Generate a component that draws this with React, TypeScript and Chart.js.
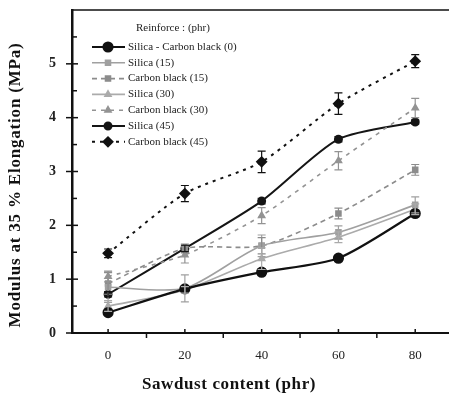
import React, { useEffect, useRef } from "react";
import { Chart, registerables } from "chart.js";
import { drawPoint } from "chart.js/helpers";

Chart.register(...registerables);

// ---- data ----
const sawdust = [0, 20, 40, 60, 80];
const seriesLabels = [
  "Silica - Carbon black (0)",
  "Silica (15)",
  "Carbon black (15)",
  "Silica (30)",
  "Carbon black (30)",
  "Silica (45)",
  "Carbon black (45)",
];
const silicaCB0 = [0.38, 0.82, 1.13, 1.39, 2.22];
const silica15 = [0.85, 0.83, 1.62, 1.87, 2.38];
const carbon15 = [0.92, 1.57, 1.62, 2.22, 3.03];
const silica30 = [0.5, 0.8, 1.38, 1.78, 2.3];
const carbon30 = [1.05, 1.45, 2.18, 3.2, 4.18];
const silica45 = [0.72, 1.57, 2.45, 3.6, 3.92];
const carbon45 = [1.48, 2.59, 3.18, 4.26, 5.05];

const errSilicaCB0 = [0.05, 0.05, 0.06, 0.05, 0.06];
const errSilica15 = [0.28, 0.25, 0.2, 0.12, 0.15];
const errCarbon15 = [0.2, 0.08, 0.15, 0.1, 0.1];
const errSilica30 = [0.1, 0.06, 0.2, 0.1, 0.1];
const errCarbon30 = [0.1, 0.15, 0.15, 0.17, 0.18];
const errSilica45 = [0.05, 0.06, 0.05, 0.05, 0.04];
const errCarbon45 = [0.08, 0.15, 0.2, 0.2, 0.12];

const yTickValues = [0, 1, 2, 3, 4, 5];
const xTickValues = [0, 20, 40, 60, 80];
const legendTitle = "Reinforce : (phr)";
const xTitle = "Sawdust content (phr)";
const yTitle = "Modulus at 35 % Elongation (MPa)";

const SERIF = '"Liberation Serif", "DejaVu Serif", serif';

const toPts = (ys: number[]) => sawdust.map((x, i) => ({ x, y: ys[i] }));

const decorPlugin = {
  id: "decor",
  afterDraw(chart: any) {
    const { ctx, chartArea, scales } = chart;
    const xs = scales.x;
    const ys = scales.y;
    ctx.save();
    ctx.strokeStyle = "#111";
    // top border
    ctx.lineWidth = 1.5;
    ctx.beginPath();
    ctx.moveTo(chartArea.left, chartArea.top);
    ctx.lineTo(chartArea.right, chartArea.top);
    ctx.stroke();
    // y ticks
    for (let v = 0; v <= 5.5001; v += 0.5) {
      const py = ys.getPixelForValue(v);
      const major = Math.abs(v - Math.round(v)) < 1e-6;
      ctx.beginPath();
      ctx.moveTo(chartArea.left - (major ? 6 : 0), py);
      ctx.lineTo(chartArea.left + (major ? 6 : 5), py);
      ctx.stroke();
    }
    // x ticks
    for (let v = 0; v <= 80; v += 10) {
      const px = xs.getPixelForValue(v);
      const major = v % 20 === 0;
      ctx.beginPath();
      ctx.moveTo(px, chartArea.bottom);
      ctx.lineTo(px, chartArea.bottom + (major ? -4 : 5));
      ctx.stroke();
    }
    // axis titles
    ctx.fillStyle = "#111";
    ctx.textAlign = "center";
    ctx.textBaseline = "middle";
    ctx.font = `bold 17px ${SERIF}`;
    (ctx as any).letterSpacing = "0.6px";
    ctx.fillText(xTitle, 229, 385);
    ctx.save();
    ctx.translate(16, 185);
    ctx.rotate(-Math.PI / 2);
    (ctx as any).letterSpacing = "0.8px";
    ctx.fillText(yTitle, 0, 0);
    ctx.restore();
    ctx.restore();
  },
};

const errorBarPlugin = {
  id: "errorBars",
  afterDatasetsDraw(chart: any) {
    const { ctx, scales } = chart;
    ctx.save();
    chart.data.datasets.forEach((ds: any) => {
      if (!ds.errors) return;
      ctx.strokeStyle = ds.borderColor;
      ctx.lineWidth = 1.2;
      ctx.setLineDash([]);
      ds.data.forEach((p: any, i: number) => {
        const e = ds.errors[i];
        const px = scales.x.getPixelForValue(p.x);
        const y1 = scales.y.getPixelForValue(p.y + e);
        const y2 = scales.y.getPixelForValue(p.y - e);
        ctx.beginPath();
        ctx.moveTo(px, y1);
        ctx.lineTo(px, y2);
        ctx.moveTo(px - 4, y1);
        ctx.lineTo(px + 4, y1);
        ctx.moveTo(px - 4, y2);
        ctx.lineTo(px + 4, y2);
        ctx.stroke();
      });
    });
    ctx.restore();
  },
};

const legendPlugin = {
  id: "customLegend",
  afterDraw(chart: any) {
    const { ctx } = chart;
    ctx.save();
    ctx.font = `11px ${SERIF}`;
    ctx.fillStyle = "#222";
    ctx.textBaseline = "middle";
    ctx.textAlign = "left";
    ctx.fillText(legendTitle, 136, 28);
    chart.data.datasets.forEach((ds: any, i: number) => {
      const y = 47 + i * 15.8;
      ctx.strokeStyle = ds.borderColor;
      ctx.lineWidth = ds.borderWidth;
      ctx.setLineDash(ds.borderDash || []);
      ctx.beginPath();
      ctx.moveTo(92, y);
      ctx.lineTo(125, y);
      ctx.stroke();
      ctx.setLineDash([]);
      ctx.fillStyle = ds.pointBackgroundColor;
      ctx.strokeStyle = ds.borderColor;
      drawPoint(ctx, { pointStyle: ds.pointStyle, radius: ds.pointRadius, rotation: 0, borderWidth: 1 }, 108, y);
      ctx.fillStyle = "#222";
      ctx.fillText(ds.label, 128, y);
    });
    ctx.restore();
  },
};

export default function App() {
  const ref = useRef<HTMLCanvasElement>(null);
  useEffect(() => {
    if (!ref.current) return;
    const mk = (
      label: string,
      ys: number[],
      errs: number[],
      color: string,
      width: number,
      dash: number[],
      style: string,
      radius: number
    ) => ({
      label,
      data: toPts(ys),
      errors: errs,
      borderColor: color,
      backgroundColor: color,
      pointBackgroundColor: color,
      pointBorderColor: color,
      borderWidth: width,
      borderDash: dash,
      pointStyle: style,
      pointRadius: radius,
      tension: 0.25,
      fill: false,
      clip: false,
    });
    const chart = new Chart(ref.current, {
      type: "line",
      data: {
        datasets: [
          mk(seriesLabels[0], silicaCB0, errSilicaCB0, "#111111", 2.2, [], "circle", 4.5),
          mk(seriesLabels[1], silica15, errSilica15, "#a0a0a0", 1.6, [], "rect", 3.5),
          mk(seriesLabels[2], carbon15, errCarbon15, "#8c8c8c", 1.6, [5, 4], "rect", 3.5),
          mk(seriesLabels[3], silica30, errSilica30, "#ababab", 1.6, [], "triangle", 3.5),
          mk(seriesLabels[4], carbon30, errCarbon30, "#939393", 1.6, [4, 5], "triangle", 3.5),
          mk(seriesLabels[5], silica45, errSilica45, "#151515", 2, [], "circle", 3.5),
          mk(seriesLabels[6], carbon45, errCarbon45, "#111111", 2, [3, 5], "rectRot", 4.5),
        ] as any,
      },
      plugins: [errorBarPlugin, decorPlugin, legendPlugin],
      options: {
        animation: false,
        responsive: false,
        devicePixelRatio: 1,
        layout: { autoPadding: false, padding: { top: 10, right: 0, left: 0, bottom: 0 } },
        plugins: { legend: { display: false }, tooltip: { enabled: false } },
        scales: {
          x: {
            type: "linear",
            min: -9.4,
            max: 88.8,
            afterBuildTicks: (s: any) => {
              s.ticks = xTickValues.map((v) => ({ value: v }));
            },
            afterFit: (s: any) => {
              s.height = 68;
              s.paddingLeft = 0;
              s.paddingRight = 0;
            },
            ticks: {
              autoSkip: false,
              maxRotation: 0,
              padding: 0,
              color: "#222",
              font: { family: SERIF, size: 13 },
              callback: (v: any) => String(v),
            },
            grid: { display: false, drawTicks: true, tickLength: 15 },
            border: { display: true, color: "#111", width: 2 },
            title: { display: false },
          },
          y: {
            min: 0,
            max: 6,
            afterBuildTicks: (s: any) => {
              s.ticks = yTickValues.map((v) => ({ value: v }));
            },
            afterFit: (s: any) => {
              s.width = 72;
              s.paddingTop = 0;
              s.paddingBottom = 0;
            },
            ticks: {
              padding: 0,
              color: "#222",
              font: { family: SERIF, size: 14, weight: "bold" },
              callback: (v: any) => String(v),
            },
            grid: { display: false, drawTicks: true, tickLength: 16 },
            border: { display: true, color: "#111", width: 2.5 },
            title: { display: false },
          },
        },
      } as any,
    });
    return () => chart.destroy();
  }, []);
  return (
    <div style={{ position: "absolute", left: 0, top: 0, width: 449, height: 401 }}>
      <canvas ref={ref} width={449} height={401} />
    </div>
  );
}
